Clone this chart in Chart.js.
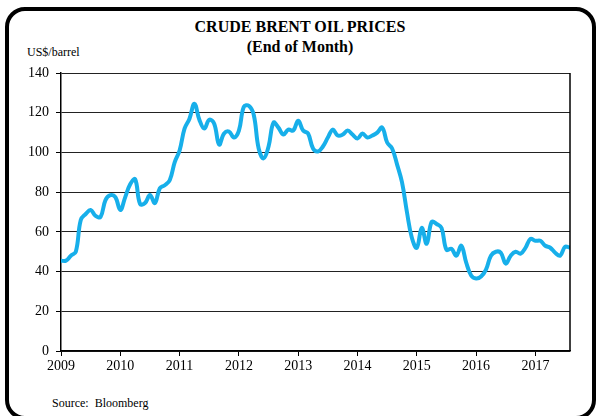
<!DOCTYPE html>
<html>
<head>
<meta charset="utf-8">
<script src="https://cdn.jsdelivr.net/npm/chart.js@4"></script>
<style>
    body { margin: 0; background: #fff; }
    #wrap { position: relative; width: 600px; height: 416px; overflow: hidden; }
    #frame { position: absolute; left: 5px; top: 7px; width: 583px; height: 405px; border: 4px solid #000; border-radius: 20px; }
    .txt { position: absolute; font-family: "Liberation Serif", "Times New Roman", serif; color: #000; white-space: nowrap; }
    #title { left: 0; width: 600px; top: 17px; text-align: center; font-weight: bold; font-size: 16px; line-height: 20px; }
    #unit { left: 27px; top: 45px; font-size: 12px; }
    #source { left: 52px; top: 396px; font-size: 12px; }
    canvas { position: absolute; left: 0; top: 0; }
</style>
</head>
<body>
<div id="wrap">
    <div id="frame"></div>
    <div id="title" class="txt">CRUDE BRENT OIL PRICES<br>(End of Month)</div>
    <div id="unit" class="txt">US$/barrel</div>
    <div id="source" class="txt">Source:&nbsp; Bloomberg</div>
    <canvas id="oilChart" width="600" height="416"></canvas>
</div>
<script>
// end of month Brent, Jan 2009 .. Aug 2017
let years = ["2009", "2010", "2011", "2012", "2013", "2014", "2015", "2016", "2017"];
let prices = [
    45.5, 45.5, 48, 50, 66, 69, 71, 68, 67.5, 76, 78.5, 77.5,
    71, 77.5, 84, 86.5, 74, 74.5, 78.5, 74.5, 82, 83.5, 86, 95,
    101, 112, 117, 124.5, 116.5, 112, 116.5, 114.5, 104, 109.5, 110.5, 107.5,
    111, 123, 123.5, 119, 102, 97, 103, 115, 112.5, 109, 111.5, 111,
    116, 111, 109.5, 102, 100.5, 103, 107.5, 111.5, 108.5, 109, 111, 109,
    107, 109.5, 107.5, 108.5, 110, 112.5, 105, 102, 94, 85, 70, 57,
    52, 62, 54, 65, 64, 62, 51, 51.5, 48, 53, 44.5, 38,
    36.5, 37.5, 41, 48, 50, 49.5, 44, 48, 50, 49, 52, 56.5,
    55.5, 55.5, 53, 52, 49.5, 48, 52.5, 52
];
let yTicks = [0, 20, 40, 60, 80, 100, 120, 140];

const points = prices.map(function (v, i) { return { x: i, y: v }; });
const serif = "'Liberation Serif', 'Times New Roman', serif";

// right edge of the plot box
const rightBorder = {
    id: "rightBorder",
    afterDraw(chart) {
        const a = chart.chartArea;
        const ctx = chart.ctx;
        ctx.save();
        ctx.strokeStyle = "#000";
        ctx.lineWidth = 1.5;
        ctx.beginPath();
        ctx.moveTo(a.right, a.top);
        ctx.lineTo(a.right, a.bottom);
        ctx.stroke();
        ctx.restore();
    }
};

document.addEventListener("DOMContentLoaded", function () {
    const ctx = document.getElementById("oilChart").getContext("2d");
    new Chart(ctx, {
        type: "line",
        data: {
            datasets: [{
                data: points,
                borderColor: "#17afea",
                borderWidth: 4,
                pointRadius: 0,
                tension: 0.4,
                fill: false
            }]
        },
        options: {
            responsive: false,
            animation: false,
            layout: { padding: { left: 0, top: 73, right: 30, bottom: 40 } },
            plugins: { legend: { display: false }, tooltip: { enabled: false } },
            scales: {
                x: {
                    type: "linear",
                    min: 0,
                    max: prices.length - 1,
                    afterBuildTicks: function (scale) {
                        scale.ticks = years.map(function (y, i) { return { value: i * 12 }; });
                    },
                    afterFit: function (scale) { scale.height = 25; },
                    ticks: {
                        autoSkip: false,
                        maxRotation: 0,
                        padding: 2,
                        color: "#000",
                        font: { family: serif, size: 14 },
                        callback: function (v) { return years[v / 12]; }
                    },
                    grid: { drawOnChartArea: false, tickLength: 5, color: "#000", tickColor: "#000" },
                    border: { color: "#000", width: 1.5 }
                },
                y: {
                    min: 0,
                    max: 140,
                    afterBuildTicks: function (scale) {
                        scale.ticks = yTicks.map(function (v) { return { value: v }; });
                    },
                    afterFit: function (scale) { scale.width = 61; },
                    ticks: {
                        padding: 7,
                        color: "#000",
                        font: { family: serif, size: 14 }
                    },
                    grid: {
                        color: "#222",
                        lineWidth: 1,
                        borderDash: [1, 1],
                        tickLength: 5,
                        tickColor: "#000",
                        tickBorderDash: []
                    },
                    border: { color: "#000", width: 1.5 }
                }
            }
        },
        plugins: [rightBorder]
    });
});
</script>
</body>
</html>
